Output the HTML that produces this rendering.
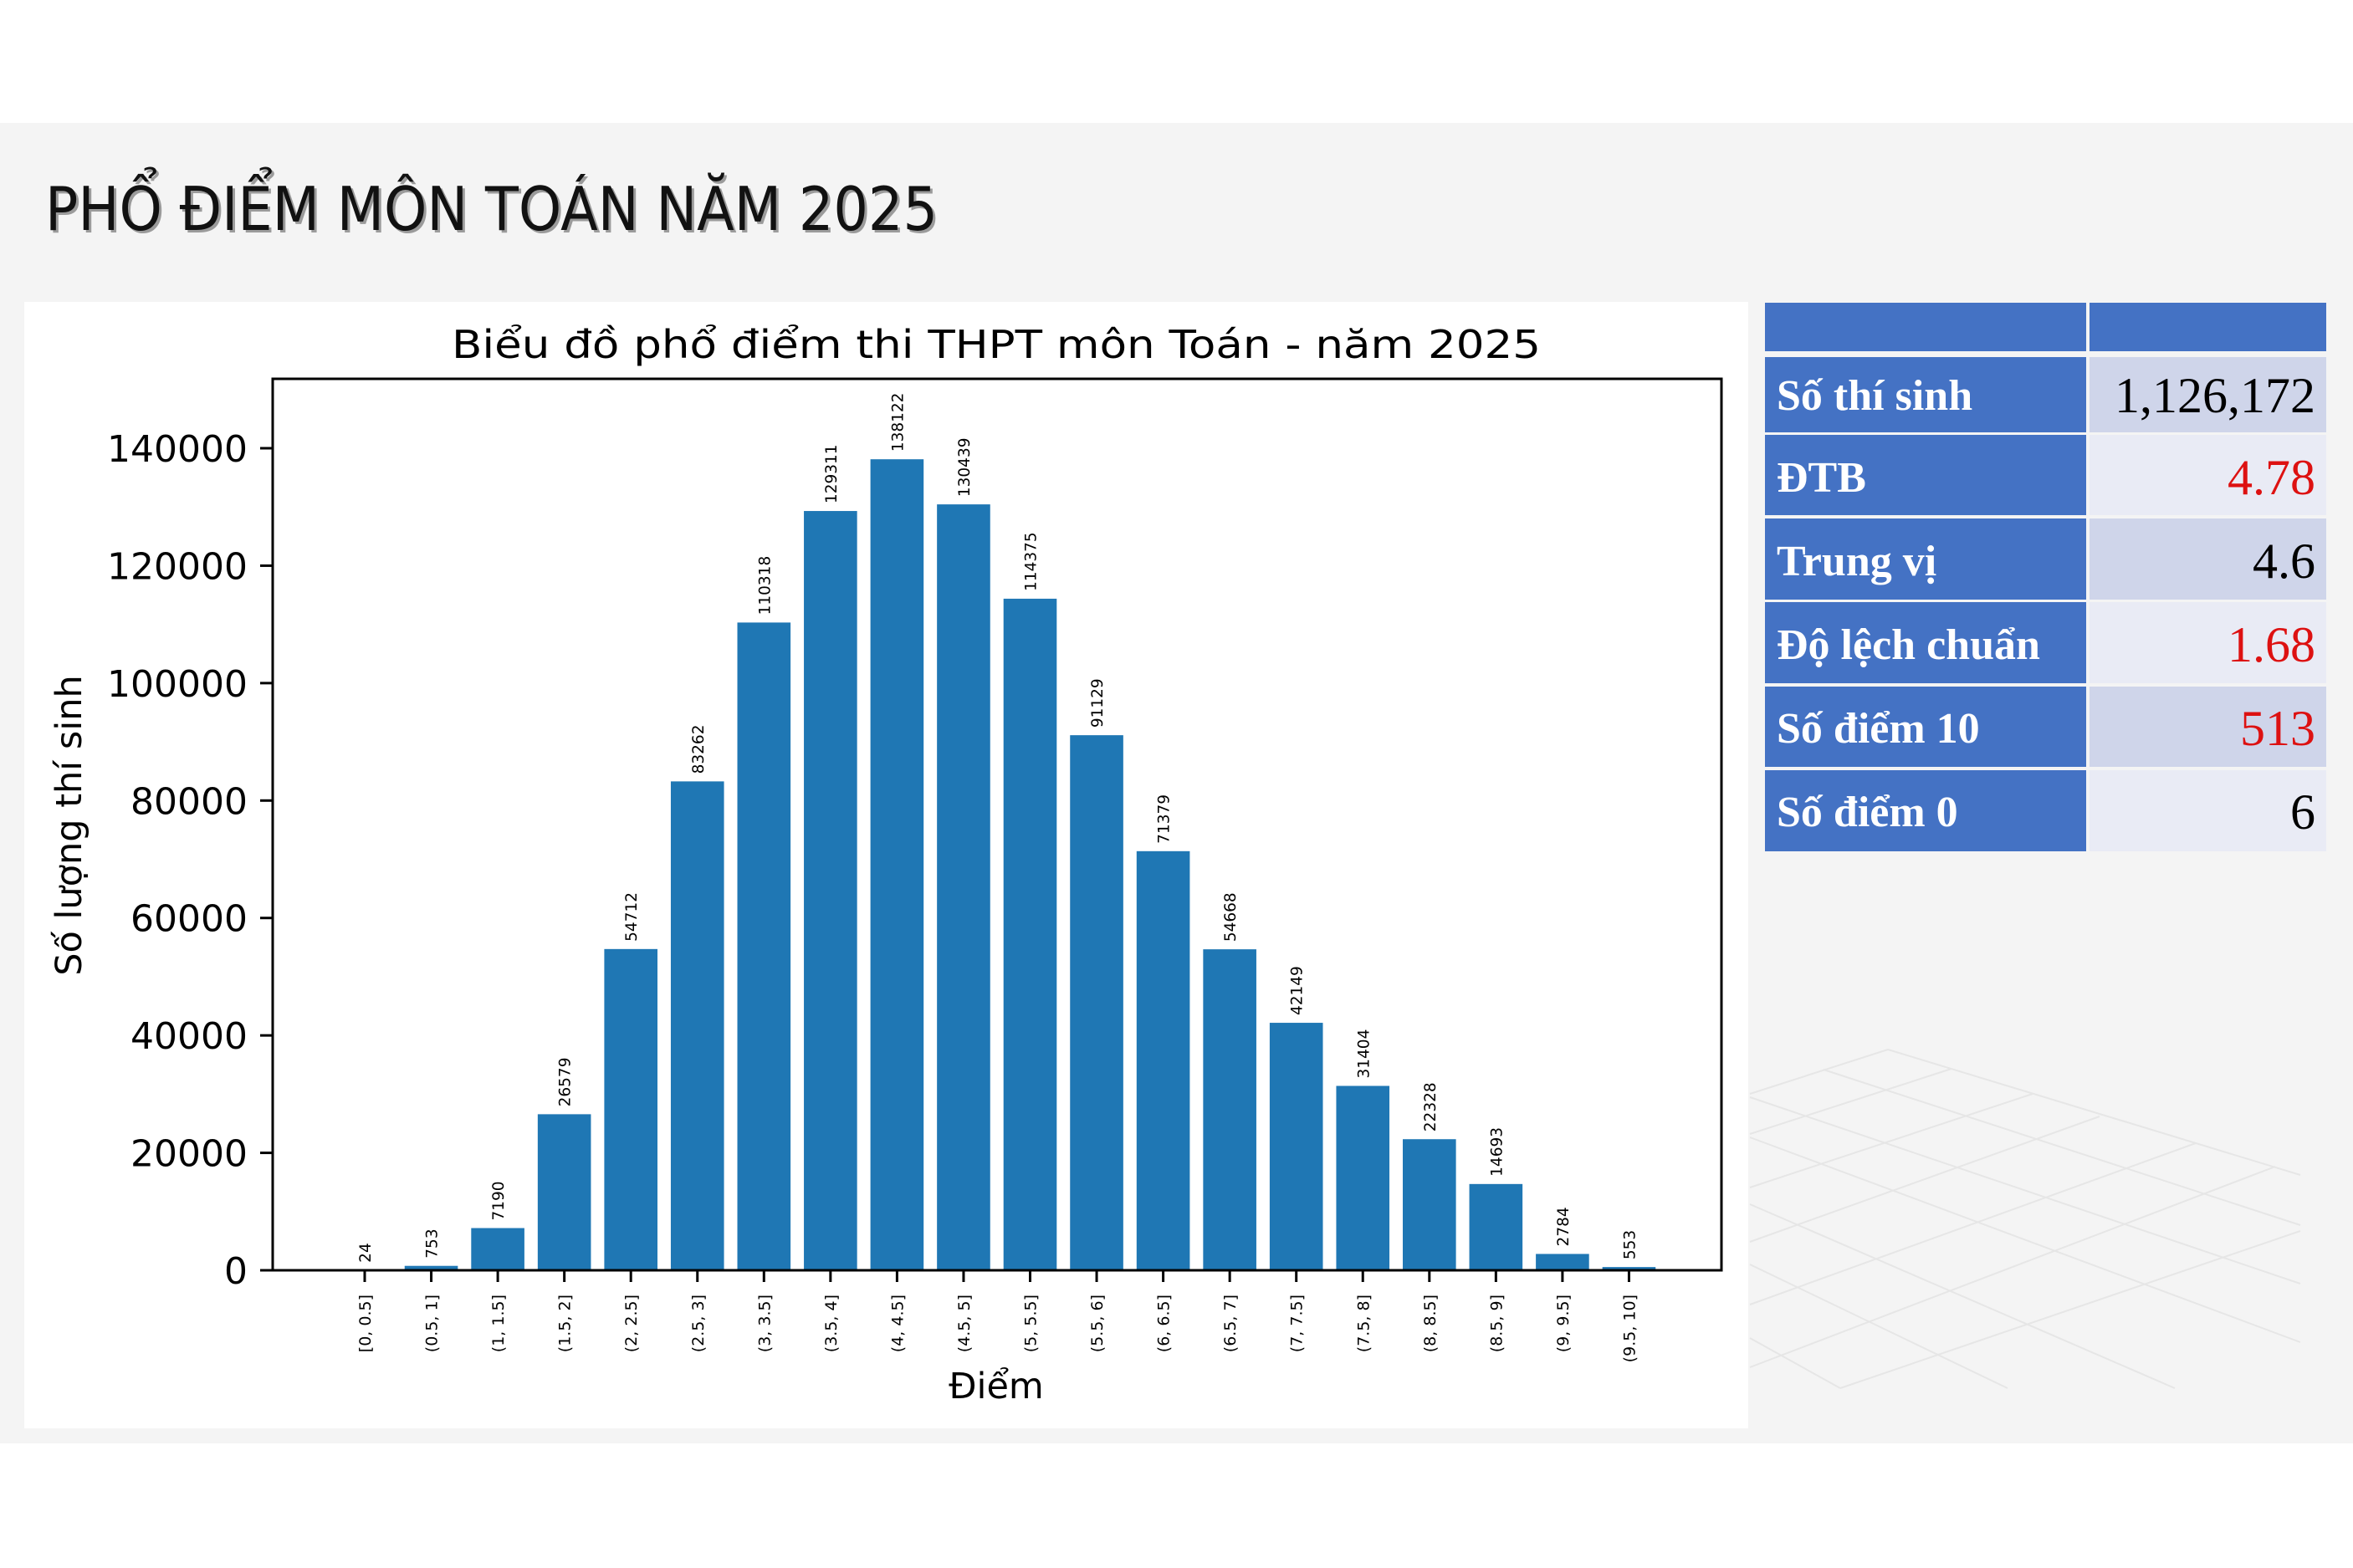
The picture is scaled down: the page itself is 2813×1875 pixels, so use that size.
<!DOCTYPE html>
<html><head><meta charset="utf-8"><style>
html,body{margin:0;padding:0;background:#fff;}
body{width:2813px;height:1875px;position:relative;overflow:hidden;}
</style></head><body>
<svg width="2813" height="1875" xmlns="http://www.w3.org/2000/svg" style="position:absolute;left:0;top:0">
<rect x="0" y="0" width="2813" height="1875" fill="#ffffff"/>
<rect x="0" y="147" width="2813" height="1579" fill="#f4f4f4"/>
<g stroke="#e6e6e6" stroke-width="2" fill="none">
<line x1="2092" y1="1308" x2="2257" y2="1255"/>
<line x1="2257" y1="1255" x2="2750" y2="1405"/>
<line x1="2092" y1="1356" x2="2333" y2="1278"/>
<line x1="2092" y1="1420" x2="2430" y2="1308"/>
<line x1="2092" y1="1485" x2="2510" y2="1335"/>
<line x1="2092" y1="1560" x2="2625" y2="1367"/>
<line x1="2092" y1="1635" x2="2720" y2="1395"/>
<line x1="2200" y1="1660" x2="2750" y2="1472"/>
<line x1="2180" y1="1279" x2="2750" y2="1465"/>
<line x1="2092" y1="1312" x2="2750" y2="1535"/>
<line x1="2092" y1="1360" x2="2750" y2="1605"/>
<line x1="2092" y1="1440" x2="2600" y2="1660"/>
<line x1="2092" y1="1512" x2="2400" y2="1660"/>
<line x1="2092" y1="1600" x2="2200" y2="1660"/>
</g>
<text x="54" y="275" font-family="'DejaVu Sans','Liberation Sans',sans-serif" font-size="72" fill="#444" opacity="0.5" textLength="1067" lengthAdjust="spacingAndGlyphs" transform="translate(3,3)">PHỔ ĐIỂM MÔN TOÁN NĂM 2025</text>
<text x="54" y="275" font-family="'DejaVu Sans','Liberation Sans',sans-serif" font-size="72" fill="#111" textLength="1067" lengthAdjust="spacingAndGlyphs">PHỔ ĐIỂM MÔN TOÁN NĂM 2025</text>
<rect x="29" y="361" width="2061" height="1347" fill="#ffffff"/>
<text x="1191" y="428" text-anchor="middle" font-family="'DejaVu Sans',sans-serif" font-size="46" fill="#000" textLength="1302" lengthAdjust="spacingAndGlyphs">Biểu đồ phổ điểm thi THPT môn Toán - năm 2025</text>
<g id="bars" fill="#1f77b4"></g>
<g id="vals" font-family="'DejaVu Sans',sans-serif" font-size="18.5" fill="#000"></g>
<g id="xt" font-family="'DejaVu Sans',sans-serif" font-size="19" fill="#000"></g>
<rect x="326" y="453" width="1732" height="1066" fill="none" stroke="#000" stroke-width="3"/>
<g stroke="#000" stroke-width="3" id="yticks"></g>
<g font-family="'DejaVu Sans',sans-serif" font-size="44" fill="#000" text-anchor="end" id="ylab"></g>
<text transform="translate(97,987) rotate(-90)" text-anchor="middle" font-family="'DejaVu Sans',sans-serif" font-size="43" fill="#000">Số lượng thí sinh</text>
<text x="1191" y="1672" text-anchor="middle" font-family="'DejaVu Sans',sans-serif" font-size="43" fill="#000">Điểm</text>
<g font-family="'Liberation Serif',serif" font-size="52">
<rect x="2110" y="362" width="384" height="58" fill="#4472c4"/>
<rect x="2498" y="362" width="283" height="58" fill="#4472c4"/>
<rect x="2110" y="427" width="384" height="90" fill="#4472c4"/>
<rect x="2498" y="427" width="283" height="90" fill="#cfd5ea"/>
<rect x="2110" y="520" width="384" height="96" fill="#4472c4"/>
<rect x="2498" y="520" width="283" height="96" fill="#e9ebf5"/>
<rect x="2110" y="620" width="384" height="97" fill="#4472c4"/>
<rect x="2498" y="620" width="283" height="97" fill="#cfd5ea"/>
<rect x="2110" y="720" width="384" height="97" fill="#4472c4"/>
<rect x="2498" y="720" width="283" height="97" fill="#e9ebf5"/>
<rect x="2110" y="821" width="384" height="96" fill="#4472c4"/>
<rect x="2498" y="821" width="283" height="96" fill="#cfd5ea"/>
<rect x="2110" y="921" width="384" height="97" fill="#4472c4"/>
<rect x="2498" y="921" width="283" height="97" fill="#e9ebf5"/>
<g font-weight="bold" fill="#fff">
<text x="2124" y="490">Số thí sinh</text>
<text x="2124" y="588">ĐTB</text>
<text x="2124" y="688">Trung vị</text>
<text x="2124" y="788">Độ lệch chuẩn</text>
<text x="2124" y="888">Số điểm 10</text>
<text x="2124" y="988">Số điểm 0</text>
</g>
<g text-anchor="end" font-size="60">
<text x="2768" y="493" fill="#000">1,126,172</text>
<text x="2768" y="591" fill="#d11">4.78</text>
<text x="2768" y="691" fill="#000">4.6</text>
<text x="2768" y="791" fill="#d11">1.68</text>
<text x="2768" y="891" fill="#d11">513</text>
<text x="2768" y="991" fill="#000">6</text>
</g>
</g>
</svg>
<script>
var NS="http://www.w3.org/2000/svg";
var vals=[24,753,7190,26579,54712,83262,110318,129311,138122,130439,114375,91129,71379,54668,42149,31404,22328,14693,2784,553];
var labs=["[0, 0.5]","(0.5, 1]","(1, 1.5]","(1.5, 2]","(2, 2.5]","(2.5, 3]","(3, 3.5]","(3.5, 4]","(4, 4.5]","(4.5, 5]","(5, 5.5]","(5.5, 6]","(6, 6.5]","(6.5, 7]","(7, 7.5]","(7.5, 8]","(8, 8.5]","(8.5, 9]","(9, 9.5]","(9.5, 10]"];
var y0=1519, k=983/140000, x0=436, dx=79.55, bw=63.6;
function el(t,a,p,txt){var e=document.createElementNS(NS,t);for(var n in a)e.setAttribute(n,a[n]);if(txt!==undefined)e.textContent=txt;document.getElementById(p).appendChild(e);return e;}
vals.forEach(function(v,i){
 var cx=x0+i*dx, h=v*k;
 el("rect",{x:cx-bw/2,y:y0-h,width:bw,height:h},"bars");
 el("text",{transform:"translate("+(cx+7)+","+(y0-h-9)+") rotate(-90)"},"vals",String(v));
 el("line",{x1:cx,y1:y0,x2:cx,y2:y0+14},"yticks");
 el("text",{transform:"translate("+(cx+7)+",1548) rotate(-90)","text-anchor":"end"},"xt",labs[i]);
});
for(var j=0;j<=7;j++){var y=y0-j*20000*k;
 el("line",{x1:311,y1:y,x2:326,y2:y},"yticks");
 el("text",{x:296,y:y+16},"ylab",String(j*20000));}
</script>
</body></html>
